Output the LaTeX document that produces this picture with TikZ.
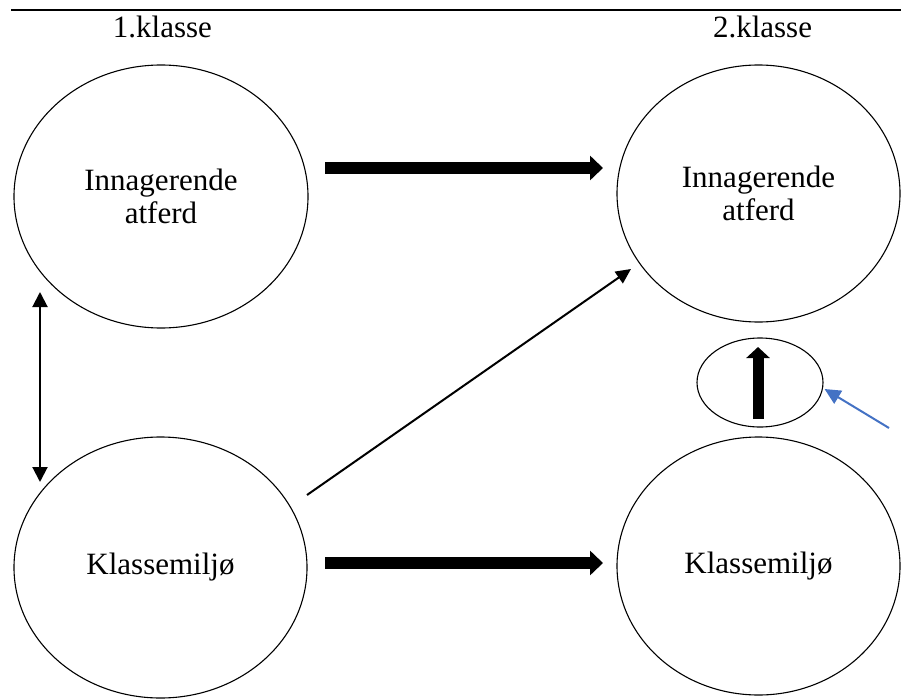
\documentclass[tikz,border=0pt]{standalone}
\usepackage{fontspec}
\setmainfont{Liberation Serif}
\usetikzlibrary{shapes.geometric,arrows.meta,calc}
\definecolor{arrowblue}{HTML}{4472C4}
\begin{document}
\begin{tikzpicture}[x=1pt,y=-1pt,
  oval/.style={draw, ellipse, line width=1.1pt, inner sep=0pt, align=center,
    font=\fontsize{31}{33}\selectfont},
  label/.style={anchor=base, inner sep=0pt, font=\fontsize{31}{33}\selectfont},
  fatarrow/.style={line width=12pt, -{Triangle[length=13pt,width=24pt]}},
  smallfat/.style={line width=11pt, -{Triangle[length=11pt,width=23pt]}},
  thinarrow/.style={line width=2pt, -{Triangle[length=15pt,width=14pt]}},
  dblarrow/.style={line width=2pt, {Triangle[length=15pt,width=15pt]}-{Triangle[length=15pt,width=15pt]}},
  bluearrow/.style={line width=2pt, draw=arrowblue, -{Triangle[length=16pt,width=15pt]}}
]
\useasboundingbox (0,0) rectangle (901,698);

% top rule
\draw[line width=2pt] (11,10) -- (901,10);

% labels
\node[label] (L1) at (162.5,38) {1.klasse};
\node[label] (L2) at (762.5,38) {2.klasse};

% ellipses
\node[oval, minimum width=294pt, minimum height=263pt] (TL) at (161,196.5) {Innagerende\\atferd};
\node[oval, minimum width=283pt, minimum height=257pt] (TR) at (758.5,193.5) {Innagerende\\atferd};
\node[oval, minimum width=293pt, minimum height=261pt] (BL) at (160.5,567.5) {Klassemiljø};
\node[oval, minimum width=283pt, minimum height=258pt] (BR) at (758.5,566) {Klassemiljø};
\node[oval, minimum width=126pt, minimum height=89pt] (S) at (760,382.5) {};

% connectors
\draw[fatarrow] ($(TL.center)+(164,-28.5)$) -- ($(TR.center)+(-155.5,-25.5)$);
\draw[fatarrow] ($(BL.center)+(164.5,-4.5)$) -- ($(BR.center)+(-155.5,-3)$);
\draw[dblarrow] ($(TL.center)+(-121,95.5)$) -- ($(BL.center)+(-120.5,-85.5)$);
\draw[thinarrow] ($(BL.center)+(146.5,-72.5)$) -- ($(TR.center)+(-127.5,75.5)$);
\draw[smallfat] ($(S.center)+(-2,36.5)$) -- ($(S.center)+(-2,-35.5)$);
\coordinate (bstart) at (889,428);
\draw[bluearrow] (bstart) -- ($(S.east)+(1,6.5)$);
\end{tikzpicture}
\end{document}
